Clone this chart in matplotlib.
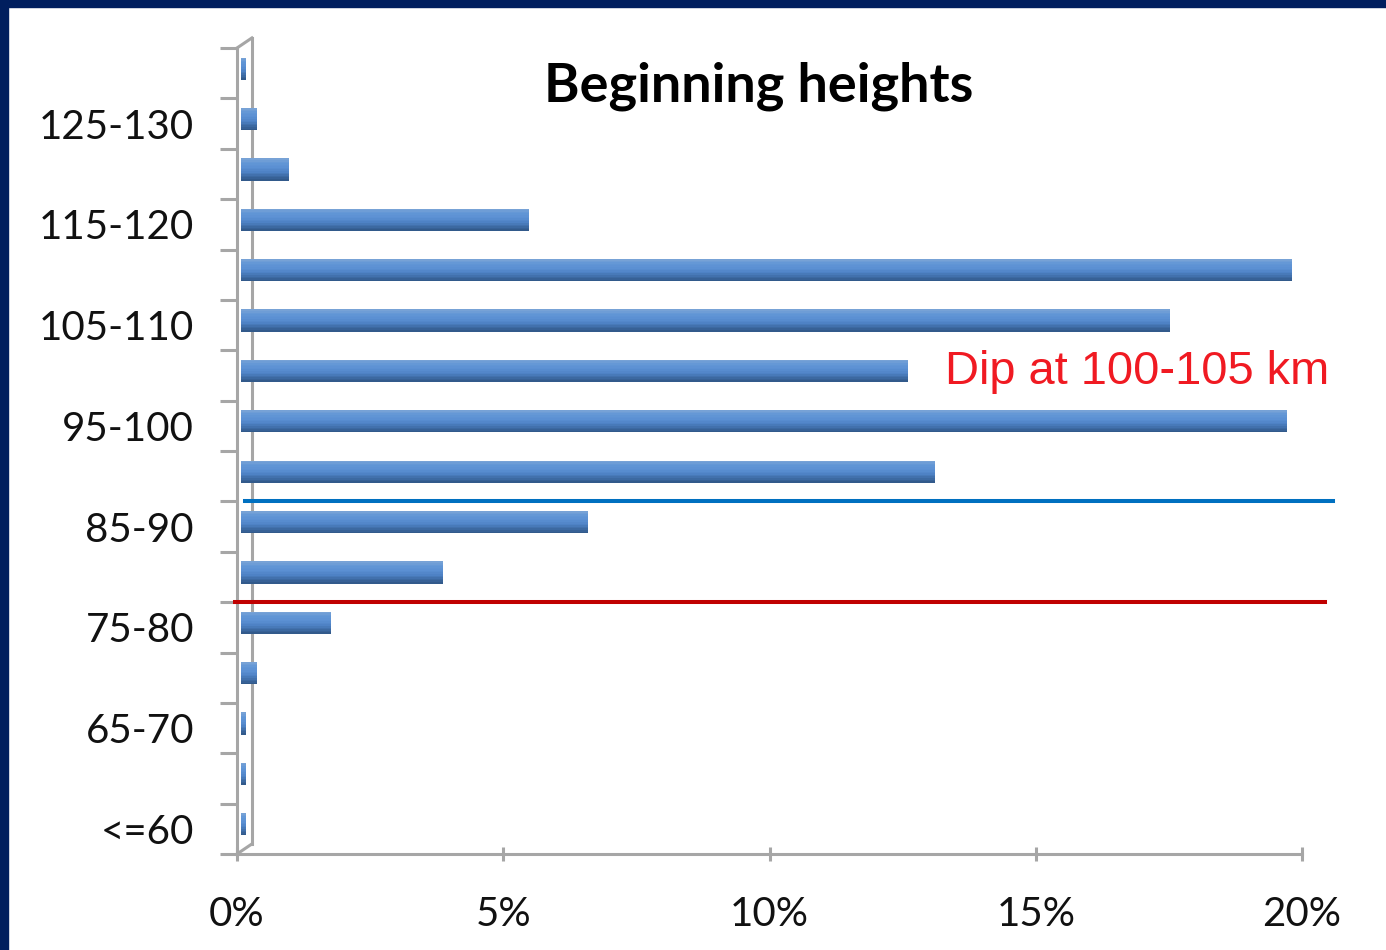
import matplotlib
matplotlib.use("Agg")
import matplotlib.pyplot as plt
from matplotlib.patches import Rectangle
from matplotlib.colors import LinearSegmentedColormap
import numpy as np

categories = ["<=60", "60-65", "65-70", "70-75", "75-80", "80-85", "85-90", "90-95",
              "95-100", "100-105", "105-110", "110-115", "115-120", "120-125",
              "125-130", "130-135"]
values = [0.08, 0.08, 0.08, 0.30, 1.69, 3.79, 6.52, 13.03,
          19.64, 12.53, 17.45, 19.74, 5.41, 0.90, 0.30, 0.08]
shown_labels = ["<=60", "65-70", "75-80", "85-90", "95-100", "105-110", "115-120", "125-130"]
xticks = [0, 5, 10, 15, 20]
xtick_labels = ["0%", "5%", "10%", "15%", "20%"]
blue_line_y = 6.5
red_line_y = 4.5
title = "Beginning heights"
note = "Dip at 100-105 km"

W, H = 1386, 950
fig = plt.figure(figsize=(W / 100, H / 100), dpi=100)
fig.patch.set_facecolor("white")
navy = "#001e5e"
fig.patches.append(Rectangle((0, 0), 8 / W, 1, transform=fig.transFigure, color=navy, zorder=0))
fig.patches.append(Rectangle((0, 1 - 7 / H), 1, 7 / H, transform=fig.transFigure, color=navy, zorder=0))

ax = fig.add_axes([237 / W, (H - 854) / H, (1302 - 237) / W, (854 - 48) / H])
ax.set_facecolor("none")
ax.set_xlim(0, 20)
ax.set_ylim(-0.5, len(categories) - 0.5)

gray = "#a6a6a6"
for s in ["top", "right"]:
    ax.spines[s].set_visible(False)
for s in ["left", "bottom"]:
    ax.spines[s].set_color(gray)
    ax.spines[s].set_linewidth(2.2)

y = np.arange(len(categories))
off = 0.09
h = 0.44
left = 0.08
# gradient bars: stacked thin layers from bottom (dark) to top (light)
cmap = LinearSegmentedColormap.from_list(
    "bar", ["#2f5686", "#3e6ba5", "#4f83c6", "#5b90d3", "#6296d6", "#7ba4d6"])
n_layers = 14
for k in range(n_layers):
    frac = (k + 0.5) / n_layers
    yc = y + off - h / 2 + (k + 0.5) * h / n_layers
    ax.barh(yc, values, height=h / n_layers * 1.05, left=left,
            color=cmap(frac), edgecolor="none", zorder=3)

# 3D wall back line
ax.plot([0.28, 0.28], [-0.5 + 0.2, len(categories) - 0.5 + 0.2], color=gray, lw=2.2, clip_on=False, zorder=2)
ax.plot([0, 0.28], [len(categories) - 0.5, len(categories) - 0.5 + 0.2], color=gray, lw=2.2, clip_on=False, zorder=2)
ax.plot([0, 0.28], [-0.5, -0.5 + 0.2], color=gray, lw=2.2, clip_on=False, zorder=2)

# horizontal marker lines
ax.plot([0.15, 20.58], [blue_line_y, blue_line_y], color="#0070c0", lw=2.9, clip_on=False, zorder=6)
ax.plot([-0.04, 20.43], [red_line_y, red_line_y], color="#c00000", lw=2.9, clip_on=False, zorder=6)

font = "Lato"
ax.set_yticks(np.arange(-0.5, len(categories), 1.0))
ax.set_yticklabels([])
ax.tick_params(axis="y", which="major", length=12, width=2.2, color=gray, direction="out")
label_pos = [categories.index(c) for c in shown_labels]
ax.set_yticks(label_pos, minor=True)
ax.set_yticklabels(shown_labels, minor=True, fontsize=29, fontfamily=font, color="#111111")
ax.tick_params(axis="y", which="minor", length=0, pad=31)

ax.set_xticks(xticks)
ax.set_xticklabels(xtick_labels, fontsize=29, fontfamily=font, color="#111111")
ax.tick_params(axis="x", which="major", length=10, width=2.2, color=gray, direction="inout", pad=25)

fig.text(759 / W, 1 - 86 / H, title, ha="center", va="center", fontsize=39, fontweight="bold",
         fontfamily=font, color="black")
ax.text(13.3, 9.06, note, ha="left", va="center", fontsize=33.8,
        fontfamily="Liberation Sans", color="#f01a22", zorder=7)

fig.savefig("out.png", dpi=100, facecolor="white")
